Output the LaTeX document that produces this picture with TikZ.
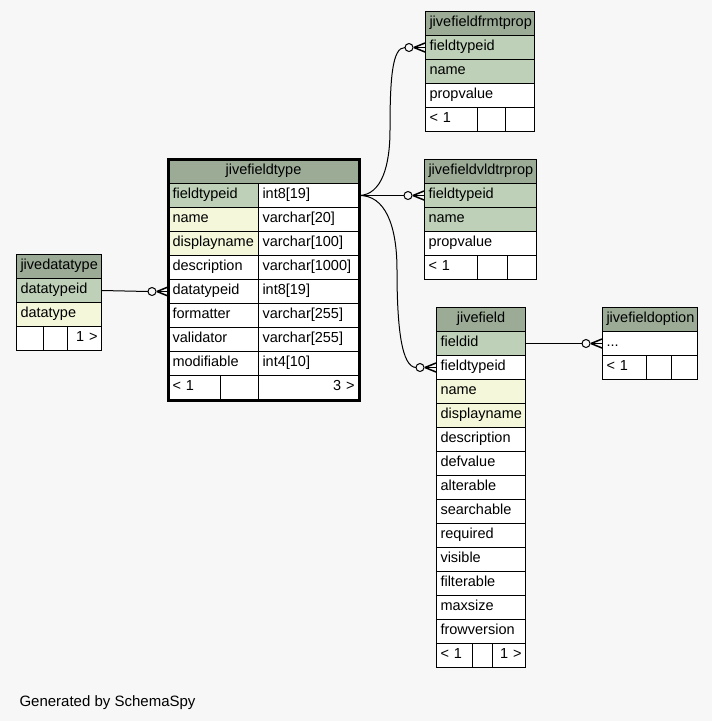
\documentclass[tikz,border=0pt]{standalone}
\usepackage{fontspec}
\setmainfont{Liberation Sans}
\usetikzlibrary{calc}
\definecolor{hdrgreen}{HTML}{9BAB96}
\definecolor{pkgreen}{HTML}{BED1B8}
\definecolor{idxyellow}{HTML}{F4F7DA}
\definecolor{bggray}{HTML}{F7F7F7}
\def\crowodot(#1){\draw[line width=1pt] ($(#1)+(-16,0)$) circle (4pt);
  \draw[line width=1.5pt] ($(#1)+(-11,0)$) -- (#1);
  \draw[line width=1.5pt] ($(#1)+(-11,0)$) -- ($(#1)+(0,4.5)$);
  \draw[line width=1.5pt] ($(#1)+(-11,0)$) -- ($(#1)+(0,-4.5)$);}
\tikzset{
  cell/.style={draw=black, line width=1pt, fill=white, anchor=north west,
    inner xsep=4pt, inner ysep=0pt, minimum height=24pt,
    text height=9.5pt, text depth=3.5pt, text width={#1-8}, align=left},
  pk/.style={cell=#1, fill=pkgreen},
  idx/.style={cell=#1, fill=idxyellow},
  hdr/.style={cell=#1, fill=hdrgreen, align=center},
  rgt/.style={cell=#1, align=right},
  rel/.style={line width=1pt},
}
\begin{document}
\begin{tikzpicture}[x=1pt, y=-1pt, font=\fontsize{14.5}{16}\selectfont]
			%%%%% START %%%%%
			
			\fill[bggray] (0,0) rectangle (712,721);
			\useasboundingbox (0,0) rectangle (712,721);
			
			% jivedatatype
			\node[hdr=85] (dt) at (16,254) {jivedatatype};
			\node[pk=85] (dt-dtid) at (16,278) {datatypeid};
			\node[idx=85] (dt-dtype) at (16,302) {datatype};
			\node[cell=27] (dt-f1) at (16,326) {};
			\node[cell=24] (dt-f2) at (43,326) {};
			\node[rgt=34] (dt-f3) at (67,326) {1 >};
			
			% jivefieldtype
			\node[hdr=190] (jft) at (168,159) {jivefieldtype};
			\node[pk=90] (jft-ftid) at (168,183) {fieldtypeid};
			\node[cell=100] (jft-ftid-t) at (258,183) {int8[19]};
			\node[idx=90] (jft-name) at (168,207) {name};
			\node[cell=100] (jft-name-t) at (258,207) {varchar[20]};
			\node[idx=90] (jft-dname) at (168,231) {displayname};
			\node[cell=100] (jft-dname-t) at (258,231) {varchar[100]};
			\node[cell=90] (jft-desc) at (168,255) {description};
			\node[cell=100] (jft-desc-t) at (258,255) {varchar[1000]};
			\node[cell=90] (jft-dtid) at (168,279) {datatypeid};
			\node[cell=100] (jft-dtid-t) at (258,279) {int8[19]};
			\node[cell=90] (jft-fmt) at (168,303) {formatter};
			\node[cell=100] (jft-fmt-t) at (258,303) {varchar[255]};
			\node[cell=90] (jft-val) at (168,327) {validator};
			\node[cell=100] (jft-val-t) at (258,327) {varchar[255]};
			\node[cell=90] (jft-mod) at (168,351) {modifiable};
			\node[cell=100] (jft-mod-t) at (258,351) {int4[10]};
			\node[cell=52] (jft-f1) at (168,375) {< 1};
			\node[cell=38] (jft-f2) at (220,375) {};
			\node[rgt=100] (jft-f3) at (258,375) {3 >};
			\draw[line width=3pt] (jft.north west) rectangle (jft-f3.south east);
			
			% jivefieldfrmtprop
			\node[hdr=109] (jffp) at (425,11) {jivefieldfrmtprop};
			\node[pk=109] (jffp-ftid) at (425,35) {fieldtypeid};
			\node[pk=109] (jffp-name) at (425,59) {name};
			\node[cell=109] (jffp-pv) at (425,83) {propvalue};
			\node[cell=52] (jffp-f1) at (425,107) {< 1};
			\node[cell=28] (jffp-f2) at (477,107) {};
			\node[cell=29] (jffp-f3) at (505,107) {};
			
			% jivefieldvldtrprop
			\node[hdr=112] (jfvp) at (424,159) {jivefieldvldtrprop};
			\node[pk=112] (jfvp-ftid) at (424,183) {fieldtypeid};
			\node[pk=112] (jfvp-name) at (424,207) {name};
			\node[cell=112] (jfvp-pv) at (424,231) {propvalue};
			\node[cell=53] (jfvp-f1) at (424,255) {< 1};
			\node[cell=30] (jfvp-f2) at (477,255) {};
			\node[cell=29] (jfvp-f3) at (507,255) {};
			
			% jivefield
			\node[hdr=89] (jf) at (436,307) {jivefield};
			\node[pk=89] (jf-fid) at (436,331) {fieldid};
			\node[cell=89] (jf-ftid) at (436,355) {fieldtypeid};
			\node[idx=89] (jf-name) at (436,379) {name};
			\node[idx=89] (jf-dname) at (436,403) {displayname};
			\node[cell=89] (jf-desc) at (436,427) {description};
			\node[cell=89] (jf-def) at (436,451) {defvalue};
			\node[cell=89] (jf-alt) at (436,475) {alterable};
			\node[cell=89] (jf-srch) at (436,499) {searchable};
			\node[cell=89] (jf-req) at (436,523) {required};
			\node[cell=89] (jf-vis) at (436,547) {visible};
			\node[cell=89] (jf-filt) at (436,571) {filterable};
			\node[cell=89] (jf-max) at (436,595) {maxsize};
			\node[cell=89] (jf-frow) at (436,619) {frowversion};
			\node[cell=36] (jf-f1) at (436,643) {< 1};
			\node[cell=20] (jf-f2) at (472,643) {};
			\node[rgt=33] (jf-f3) at (492,643) {1 >};
			
			% jivefieldoption
			\node[hdr=95] (jfo) at (602,307) {jivefieldoption};
			\node[cell=95] (jfo-dots) at (602,331) {...};
			\node[cell=44] (jfo-f1) at (602,355) {< 1};
			\node[cell=25] (jfo-f2) at (646,355) {};
			\node[cell=26] (jfo-f3) at (671,355) {};
			
			% relations
			\draw[rel] (dt-dtid.east) -- ($(jft-dtid.west)+(-20,0)$);
			\crowodot(jft-dtid.west)
			
			\draw[rel] (jft-ftid-t.east) .. controls (382,195) and (390,165) .. (390,130)
			  .. controls (390,80) and (392,47) .. ($(jffp-ftid.west)+(-20,0)$);
			\crowodot(jffp-ftid.west)
			
			\draw[rel] (jft-ftid-t.east) -- ($(jfvp-ftid.west)+(-20,0)$);
			\crowodot(jfvp-ftid.west)
			
			\draw[rel] (jft-ftid-t.east) .. controls (385,195) and (397,225) .. (397,270)
			  .. controls (397,330) and (402,367) .. ($(jf-ftid.west)+(-20,0)$);
			\crowodot(jf-ftid.west)
			
			\draw[rel] (jf-fid.east) -- ($(jfo-dots.west)+(-20,0)$);
			\crowodot(jfo-dots.west)
			
			\node[anchor=base west, font=\fontsize{15}{17}\selectfont] (gen) at (16,706) {Generated by SchemaSpy};
			
			%%%%% END %%%%%
		\end{tikzpicture}
\end{document}
